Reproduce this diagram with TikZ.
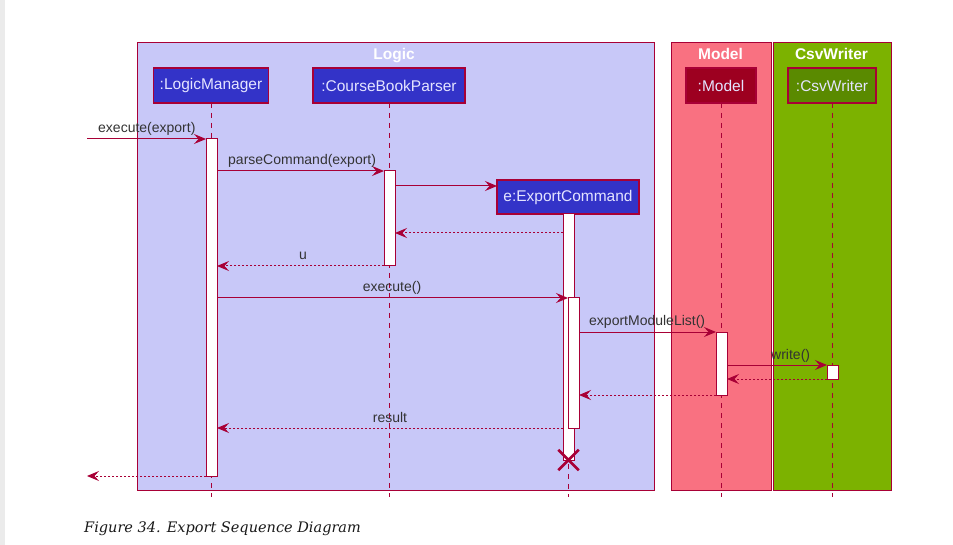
\documentclass[tikz,border=0pt]{standalone}
\usepackage{fontspec}
\setmainfont{Liberation Sans}
\newfontfamily\capfont{DejaVu Serif}
\usetikzlibrary{arrows.meta,calc,shapes.misc}

\definecolor{umlline}{HTML}{A80036}
\definecolor{pagegray}{HTML}{EBEBEB}
\definecolor{logicfill}{HTML}{C8C8F8}
\definecolor{modelfill}{HTML}{F97181}
\definecolor{csvfill}{HTML}{7CB200}
\definecolor{partblue}{HTML}{3333C8}
\definecolor{partred}{HTML}{9D0020}
\definecolor{partgreen}{HTML}{5A8A00}
\definecolor{parttext}{HTML}{E4E4FF}
\definecolor{msgtext}{HTML}{333333}

\tikzset{
  groupbox/.style={draw=umlline, line width=1pt, anchor=north west, inner sep=0pt, outer sep=0pt},
  grouptitle/.style={text=white, font=\fontsize{15.5}{18}\selectfont\bfseries, anchor=base},
  partbox/.style={draw=umlline, line width=1.2pt, text=parttext, minimum height=35pt,
    inner sep=0pt, outer sep=0pt, font=\fontsize{15.5}{18}\selectfont},
  lifeline/.style={draw=umlline, line width=1pt, dash pattern=on 5pt off 5pt},
  actbar/.style={draw=umlline, fill=white, line width=1pt, minimum width=11pt,
    inner sep=0pt, outer sep=0pt, anchor=north},
  msg/.style={draw=umlline, line width=1pt, -{Stealth[length=12pt,width=10pt,inset=4.5pt]}},
  reply/.style={msg, dash pattern=on 2pt off 2pt},
  lbl/.style={text=msgtext, font=\fontsize{14}{16}\selectfont, anchor=base, inner sep=0pt},
  killmark/.style={cross out, draw=umlline, line width=2.5pt, minimum size=18pt, inner sep=0pt},
}

\begin{document}
\begin{tikzpicture}[x=1pt,y=-1pt]
\useasboundingbox (0,0) rectangle (953,545);
\fill[pagegray] (0,0) rectangle (5,545);

% package frames
\node[groupbox, fill=logicfill, minimum width=517pt, minimum height=447pt] (logic) at (137,43) {};
\node[groupbox, fill=modelfill, minimum width=100pt, minimum height=447pt] (model) at (671,43) {};
\node[groupbox, fill=csvfill, minimum width=118pt, minimum height=447pt] (csv) at (773,43) {};
\node[grouptitle] (logicT) at (394,59.5) {Logic};
\node[grouptitle] (modelT) at (720.5,59.5) {Model};
\node[grouptitle] (csvT) at (831.5,59.5) {CsvWriter};

% participants
\node[partbox, fill=partblue, minimum width=115pt] (lm) at (211,85.5) {:LogicManager};
\node[partbox, fill=partblue, minimum width=152pt] (cp) at (389,85.5) {:CourseBookParser};
\node[partbox, fill=partred, minimum width=70pt] (md) at (721,85.5) {:Model};
\node[partbox, fill=partgreen, minimum width=88pt] (cw) at (832,85.5) {:CsvWriter};
\node[partbox, fill=partblue, minimum width=142pt, minimum height=34pt] (ec) at (568,197) {e:ExportCommand};

% lifelines
\foreach \p in {lm,cp,md,cw,ec}
  \draw[lifeline] (\p.south) -- (\p.south |- 0,497);

% activation bars
\node[actbar, minimum height=337pt] (lmA) at (211.5,139) {};
\node[actbar, minimum height=95pt] (cpA) at (389.5,171) {};
\node[actbar, minimum height=246pt] (ecA) at (568.5,214) {};
\node[actbar, minimum height=130pt] (ecB) at (573.5,298) {};
\node[actbar, minimum height=63pt] (mdA) at (721.5,332) {};
\node[actbar, minimum height=14pt] (cwA) at (832.5,365) {};
\node[killmark] (ecX) at (ecA.south) {};

% messages
\coordinate (entry) at (87,139);
\coordinate (exit) at (87,476);
\draw[msg] (entry) -- (lmA.north west);
\node[lbl, anchor=base west] (l1) at (98,133) {execute(export)};
\draw[msg] (lmA.east |- cpA.north) -- (cpA.north west);
\node[lbl, anchor=base west] (l2) at (228,165) {parseCommand(export)};
\draw[msg] (cpA.east |- 0,186) -- (ec.west |- 0,186);
\draw[reply] (ecA.west |- 0,233) -- (cpA.east |- 0,233);
\draw[reply] (cpA.south west) -- (lmA.east |- cpA.south);
\node[lbl] (l3) at (303,260) {u};
\draw[msg] (lmA.east |- ecB.north) -- (ecB.north west);
\node[lbl] (l4) at (392,292) {execute()};
\draw[msg] (ecB.east |- mdA.north) -- (mdA.north west);
\node[lbl, anchor=base west] (l5) at (589,326) {exportModuleList()};
\draw[msg] (mdA.east |- cwA.north) -- (cwA.north west);
\node[lbl, anchor=base west] (l6) at (771,359) {write()};
\draw[reply] (cwA.south west) -- (mdA.east |- cwA.south);
\draw[reply] (mdA.south west) -- (ecB.east |- mdA.south);
\draw[reply] (ecA.west |- ecB.south) -- (lmA.east |- ecB.south);
\node[lbl] (l7) at (390,422) {result};
\draw[reply] (lmA.south west) -- (exit);

% caption
\node[anchor=base west, inner sep=0pt, font=\capfont\itshape\fontsize{14.5}{17}\selectfont, text=black!90] (cap) at (84,532) {Figure 34. Export Sequence Diagram};
\end{tikzpicture}
\end{document}
